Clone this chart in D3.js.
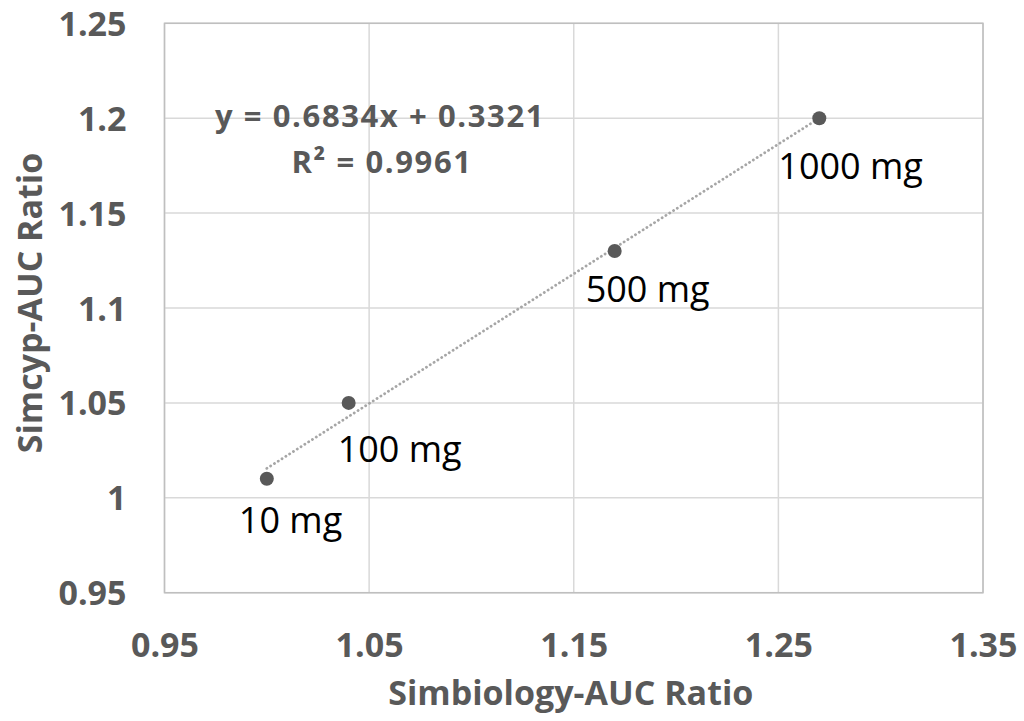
<!DOCTYPE html>
<html>
<head>
<meta charset="utf-8">
<script src="https://cdn.jsdelivr.net/npm/d3@7"></script>
<style>
  html, body { margin: 0; padding: 0; background: #fff; }
  svg { display: block; }
  text { font-family: "Open Sans", "Noto Sans", sans-serif; }
</style>
</head>
<body>
<svg id="chart" width="1024" height="721"></svg>
<script>
// ---- data ----
const doseLabels = ["10 mg", "100 mg", "500 mg", "1000 mg"];
const simbiologyAUC = [1.00, 1.04, 1.17, 1.27];
const simcypAUC = [1.01, 1.05, 1.13, 1.20];
const xTicks = [0.95, 1.05, 1.15, 1.25, 1.35];
const yTicks = [0.95, 1.00, 1.05, 1.10, 1.15, 1.20, 1.25];
const xTitle = "Simbiology-AUC Ratio";
const yTitle = "Simcyp-AUC Ratio";
const equationText = "y = 0.6834x + 0.3321";
const r2Text = "R² = 0.9961";

// label placement nudges (pixels, styling only)
const labelNudge = [[-28, 54], [-11, 59], [-29, 51], [-41, 61]];

// ---- layout ----
const W = 1024, H = 721;
const plot = { left: 164.5, right: 983, top: 23.3, bottom: 592.7 };
const grey = "#595959";

const svg = d3.select("#chart");
const x = d3.scaleLinear().domain([0.95, 1.35]).range([plot.left, plot.right]);
const y = d3.scaleLinear().domain([0.95, 1.25]).range([plot.bottom, plot.top]);

// gridlines
const grid = svg.append("g");
grid.selectAll("line.v").data(xTicks).join("line")
  .attr("x1", d => x(d)).attr("x2", d => x(d))
  .attr("y1", plot.top).attr("y2", plot.bottom)
  .attr("stroke", "#d9d9d9").attr("stroke-width", 1.5);
grid.selectAll("line.h").data(yTicks).join("line")
  .attr("y1", d => y(d)).attr("y2", d => y(d))
  .attr("x1", plot.left).attr("x2", plot.right)
  .attr("stroke", "#d9d9d9").attr("stroke-width", 1.5);

// plot border
svg.append("rect")
  .attr("x", plot.left).attr("y", plot.top)
  .attr("width", plot.right - plot.left).attr("height", plot.bottom - plot.top)
  .attr("fill", "none").attr("stroke", "#bfbfbf").attr("stroke-width", 1.5);

// axes (labels only)
const fmt = d => String(+d.toFixed(2));
const xAxis = d3.axisBottom(x).tickValues(xTicks).tickFormat(fmt).tickSize(0).tickPadding(0);
const gx = svg.append("g").attr("transform", `translate(0,${plot.bottom})`).call(xAxis);
gx.select(".domain").remove();
gx.selectAll("text")
  .attr("dy", null).attr("y", 64)
  .attr("fill", grey).attr("font-size", 34).attr("font-weight", 700)
  .attr("font-family", '"Open Sans", sans-serif');

const yAxis = d3.axisLeft(y).tickValues(yTicks).tickFormat(fmt).tickSize(0).tickPadding(0);
const gy = svg.append("g").attr("transform", `translate(${plot.left},0)`).call(yAxis);
gy.select(".domain").remove();
gy.selectAll("text")
  .attr("dy", null).attr("x", -38).attr("y", 12)
  .attr("fill", grey).attr("font-size", 34).attr("font-weight", 700)
  .attr("font-family", '"Open Sans", sans-serif');

// trendline (least squares from data)
const n = simbiologyAUC.length;
const mx = d3.mean(simbiologyAUC), my = d3.mean(simcypAUC);
let sxy = 0, sxx = 0;
for (let i = 0; i < n; i++) {
  sxy += (simbiologyAUC[i] - mx) * (simcypAUC[i] - my);
  sxx += (simbiologyAUC[i] - mx) ** 2;
}
const slope = sxy / sxx, intercept = my - slope * mx;
const [x0, x1] = d3.extent(simbiologyAUC);
svg.append("line")
  .attr("x1", x(x0)).attr("y1", y(slope * x0 + intercept))
  .attr("x2", x(x1)).attr("y2", y(slope * x1 + intercept))
  .attr("stroke", "#a6a6a6").attr("stroke-width", 2.8)
  .attr("stroke-linecap", "round").attr("stroke-dasharray", "0.1 4.4");

// points
const pts = simbiologyAUC.map((v, i) => ({ x: v, y: simcypAUC[i], label: doseLabels[i], nudge: labelNudge[i] }));
svg.append("g").selectAll("circle").data(pts).join("circle")
  .attr("cx", d => x(d.x)).attr("cy", d => y(d.y)).attr("r", 7)
  .attr("fill", grey);

// data labels
svg.append("g").selectAll("text").data(pts).join("text")
  .attr("x", d => x(d.x) + d.nudge[0]).attr("y", d => y(d.y) + d.nudge[1])
  .attr("fill", "#000").attr("font-size", 36).attr("font-weight", 400)
  .text(d => d.label);

// equation
svg.append("text").attr("x", 380).attr("y", 127).attr("text-anchor", "middle")
  .attr("fill", grey).attr("font-size", 31).attr("font-weight", 700)
  .attr("letter-spacing", 1.6).text(equationText);
svg.append("text").attr("x", 382).attr("y", 173).attr("text-anchor", "middle")
  .attr("fill", grey).attr("font-size", 31).attr("font-weight", 700)
  .attr("letter-spacing", 1.6).text(r2Text);

// axis titles
svg.append("text").attr("x", (plot.left + plot.right) / 2 - 3).attr("y", 705)
  .attr("text-anchor", "middle").attr("fill", grey)
  .attr("font-size", 34).attr("font-weight", 700).text(xTitle);
svg.append("text").attr("transform", `translate(42,303) rotate(-90)`)
  .attr("text-anchor", "middle").attr("fill", grey)
  .attr("font-size", 34).attr("font-weight", 700).text(yTitle);
</script>
</body>
</html>
